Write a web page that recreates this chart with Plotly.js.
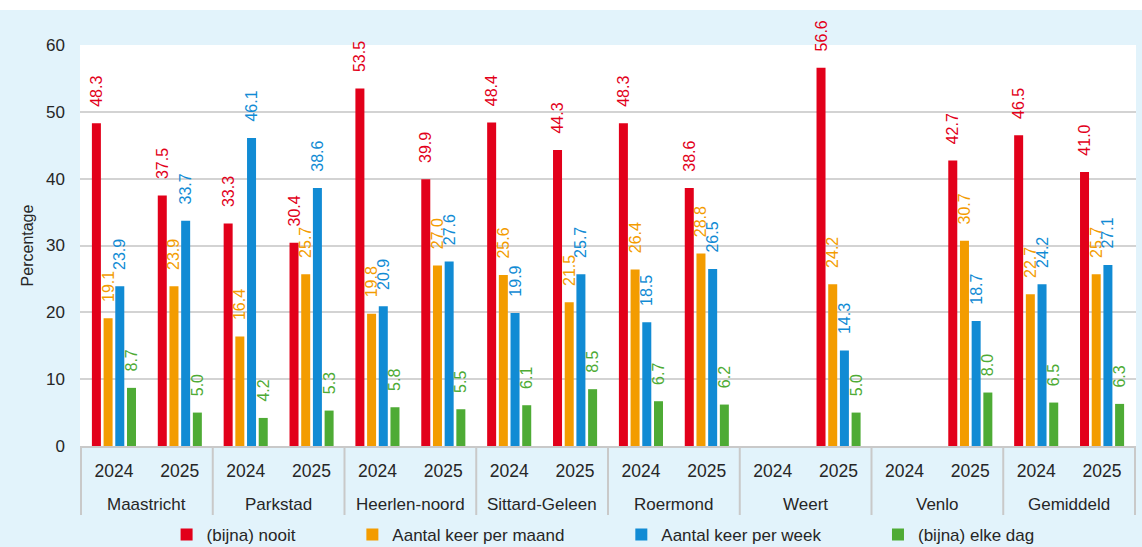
<!DOCTYPE html>
<html>
<head>
<meta charset="utf-8">
<script src="https://cdn.plot.ly/plotly-3.0.1.min.js"></script>
<style>html,body{margin:0;padding:0;background:#e2f3fb;}#chart{width:1142px;height:547px;}</style>
</head>
<body>
<div id="chart"></div>
<script>
const regions = ['Maastricht','Parkstad','Heerlen-noord','Sittard-Geleen','Roermond','Weert','Venlo','Gemiddeld'];
const years = ['2024','2025'];
const seriesNames = ['(bijna) nooit','Aantal keer per maand','Aantal keer per week','(bijna) elke dag'];
const seriesColors = ['#e2001a','#f39c00','#118bd4','#4eab35'];
// order: Maastricht 24,25, Parkstad 24,25, Heerlen-noord 24,25, Sittard-Geleen 24,25, Roermond 24,25, Weert 24,25, Venlo 24,25, Gemiddeld 24,25
const nooit     = [48.3,37.5, 33.3,30.4, 53.5,39.9, 48.4,44.3, 48.3,38.6, null,56.6, null,42.7, 46.5,41.0];
const perMaand  = [19.1,23.9, 16.4,25.7, 19.8,27.0, 25.6,21.5, 26.4,28.8, null,24.2, null,30.7, 22.7,25.7];
const perWeek   = [23.9,33.7, 46.1,38.6, 20.9,27.6, 19.9,25.7, 18.5,26.5, null,14.3, null,18.7, 24.2,27.1];
const elkeDag   = [8.7,5.0, 4.2,5.3, 5.8,5.5, 6.1,8.5, 6.7,6.2, null,5.0, null,8.0, 6.5,6.3];
const seriesValues = [nooit, perMaand, perWeek, elkeDag];

const font = '"Liberation Sans", Arial, sans-serif';
const textColor = '#262626';
const gridGray = '#c9c9c9';

// unique category keys, one per region/year, with year shown as tick text
const catKeys = [], catYears = [];
regions.forEach(r => years.forEach(y => { catKeys.push(r + ' ' + y); catYears.push(y); }));

const labelPad = '\u00a0\u00a0\u00a0';
const legendPad = '\u00a0'.repeat(11);

const traces = seriesValues.map((vals, i) => ({
  type: 'bar',
  name: seriesNames[i] + legendPad,
  x: catKeys,
  y: vals,
  marker: {color: seriesColors[i], line: {width: 0}},
  texttemplate: labelPad + '%{y:.1f}',
  textposition: 'outside',
  textangle: -90,
  constraintext: 'none',
  cliponaxis: false,
  textfont: {family: font, size: 16, color: seriesColors[i]},
  hoverinfo: 'skip'
}));

const plotH = 547 - 45 - 101;
const regionLabelY = -58 / plotH;
const dividerY = -69 / plotH;

const annotations = regions.map((r, i) => ({
  xref: 'x', yref: 'paper',
  x: i * years.length + (years.length - 1) / 2, y: regionLabelY,
  xanchor: 'center', yanchor: 'middle',
  text: r, showarrow: false,
  font: {family: font, size: 17, color: textColor}
}));

const shapes = [{
  type: 'rect', xref: 'paper', yref: 'paper', x0: -0.2, x1: 1.2, y0: 1.0873, y1: 1.3,
  fillcolor: '#ffffff', line: {width: 0}, layer: 'below'
}];
for (let i = 0; i <= regions.length; i++) {
  const xd = i * years.length - 0.5;
  shapes.push({
    type: 'line', xref: 'x', yref: 'paper', x0: xd, x1: xd, y0: 0, y1: dividerY,
    line: {color: gridGray, width: 2}
  });
}

const layout = {
  width: 1142, height: 547,
  margin: {l: 80, r: 6, t: 45, b: 101, autoexpand: false},
  paper_bgcolor: '#e2f3fb',
  plot_bgcolor: '#ffffff',
  barmode: 'group',
  bargap: 0.29,
  bargroupgap: 0.23,
  showlegend: true,
  legend: {
    orientation: 'h', x: 0.082, xanchor: 'left', y: -0.222, yanchor: 'middle',
    font: {family: font, size: 17, color: textColor},
    bgcolor: 'rgba(0,0,0,0)', traceorder: 'normal'
  },
  xaxis: {
    type: 'category',
    tickmode: 'array', tickvals: catKeys, ticktext: catYears,
    tickfont: {family: font, size: 17.5, color: textColor},
    ticklabelstandoff: 8,
    showline: true, linecolor: gridGray, linewidth: 2,
    ticks: '', showgrid: false, automargin: false
  },
  yaxis: {
    range: [0, 60], dtick: 10, tick0: 0,
    showgrid: true, gridcolor: '#d3d3d3', gridwidth: 2,
    zeroline: false, showline: false, ticks: '',
    ticklabelstandoff: 14,
    tickfont: {family: font, size: 17, color: textColor},
    title: {text: 'Percentage', font: {family: font, size: 16, color: textColor}, standoff: 8},
    automargin: false
  },
  annotations: annotations,
  shapes: shapes
};

Plotly.newPlot('chart', traces, layout, {staticPlot: true, displayModeBar: false});
</script>
</body>
</html>
